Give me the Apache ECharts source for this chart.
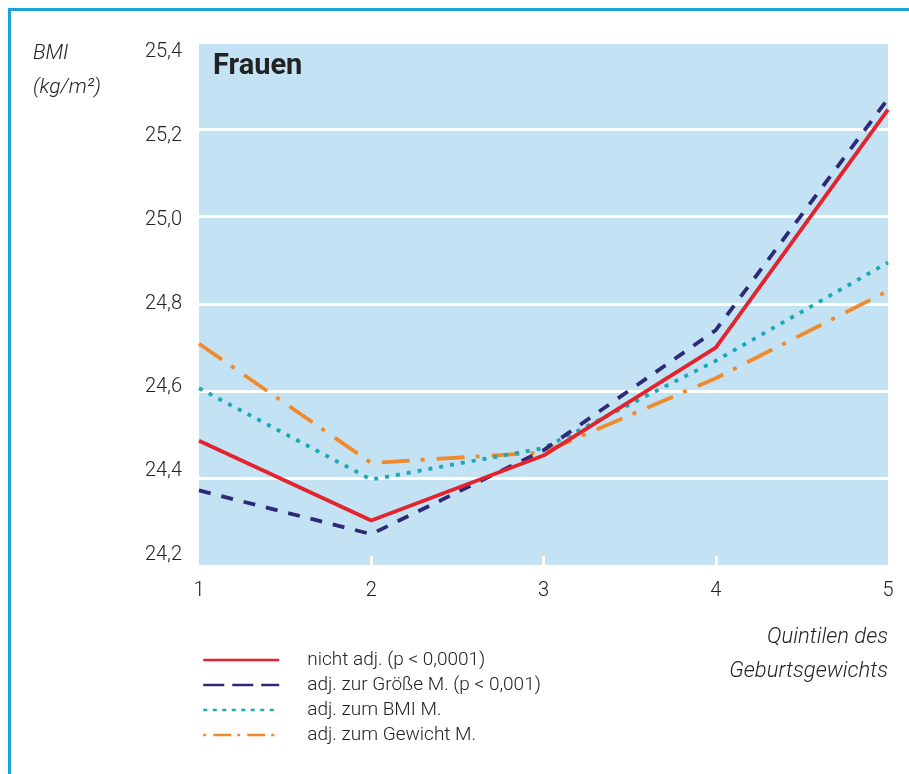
<!DOCTYPE html>
<html><head><meta charset="utf-8">
<script src="https://cdn.jsdelivr.net/npm/echarts@6/dist/echarts.min.js"></script>
<style>html,body{margin:0;padding:0;background:#fff}#c{width:909px;height:774px}</style>
</head><body><div id="c"></div>
<script>
const categories = ['1', '2', '3', '4', '5'];
const seriesNames = ['nicht adj. (p < 0,0001)', 'adj. zur Größe M. (p < 0,001)', 'adj. zum BMI M.', 'adj. zum Gewicht M.'];
const nichtAdj = [24.487, 24.304, 24.453, 24.70, 25.245];
const adjGroesse = [24.373, 24.273, 24.465, 24.74, 25.27];
const adjBMI = [24.607, 24.398, 24.47, 24.67, 24.895];
const adjGewicht = [24.709, 24.436, 24.46, 24.63, 24.83];
const yMin = 24.2, yMax = 25.4, yStep = 0.2;

const font = 'Roboto';
const txt = '#222';
const colors = ['#e3232d', '#2e2a78', '#19a9b8', '#ef8b2c'];
const dashes = ['solid', [12, 11], [4, 7], [28, 11, 4, 12]];
const legendDashes = ['solid', [21, 8], [4, 5.5], [3, 7, 18, 6]];
const widths = [3.8, 3.8, 3.8, 3.8];
const datasets = [nichtAdj, adjGroesse, adjBMI, adjGewicht];

const chart = echarts.init(document.getElementById('c'), null, {renderer: 'canvas'});
chart.setOption({
  animation: false,
  textStyle: {fontFamily: font},
  grid: [
    {left: 199, right: 21, top: 42, bottom: 208, show: true, backgroundColor: '#c3e3f5', borderWidth: 0},
    {left: 199, right: 21, top: 52, bottom: 219, show: false}
  ],
  xAxis: [
    {type: 'category', gridIndex: 0, data: categories, boundaryGap: false,
     axisLine: {show: false},
     axisTick: {show: true, inside: true, length: 10, lineStyle: {color: '#fff', width: 3},
                interval: function (i) { return i > 0 && i < categories.length - 1; }},
     axisLabel: {color: txt, fontSize: 20, fontFamily: font, fontWeight: 300, margin: 15}},
    {type: 'category', gridIndex: 1, data: categories, show: false, boundaryGap: false}
  ],
  yAxis: [
    {type: 'value', gridIndex: 0, min: yMin, max: yMax, interval: yStep,
     axisLine: {show: false}, axisTick: {show: false}, axisLabel: {show: false},
     splitLine: {show: true, lineStyle: {color: '#ffffff', width: 3}}},
    {type: 'value', gridIndex: 1, min: yMin, max: yMax, interval: yStep,
     axisLine: {show: false}, axisTick: {show: false}, splitLine: {show: false},
     axisLabel: {color: txt, fontSize: 20, fontFamily: font, fontWeight: 300, margin: 17,
                 formatter: function (v) { return v.toFixed(1).replace('.', ','); }}}
  ],
  legend: {
    orient: 'vertical', left: 202, top: 650, itemGap: 5, padding: 0,
    itemWidth: 76, itemHeight: 14,
    data: seriesNames.map(function (n, i) {
      return {name: n, lineStyle: {type: legendDashes[i], width: 2.5, color: colors[i]}};
    }),
    itemStyle: {color: 'rgba(0,0,0,0)', borderWidth: 0, opacity: 0},
    textStyle: {color: txt, fontSize: 19, fontFamily: font, fontWeight: 300, lineHeight: 20, padding: [0, 0, 0, 23]}
  },
  graphic: [
    {type: 'rect', shape: {x: 9.5, y: 9.5, width: 1000, height: 1000}, style: {fill: 'none', stroke: '#1ba2da', lineWidth: 3}, z: 100},
    {type: 'text', left: 213, top: 52, style: {text: 'Frauen', font: 'bold 29px Roboto', fill: txt}},
    {type: 'text', left: 33, top: 43, style: {text: 'BMI', font: 'italic 300 21px Roboto', fill: txt}},
    {type: 'text', left: 33, top: 77, style: {text: '(kg/m²)', font: 'italic 300 21px Roboto', fill: txt}},
    {type: 'text', right: 21, top: 626, style: {text: 'Quintilen des', font: 'italic 300 22px Roboto', fill: txt, align: 'right'}},
    {type: 'text', right: 21, top: 660, style: {text: 'Geburtsgewichts', font: 'italic 300 22px Roboto', fill: txt, align: 'right'}}
  ],
  series: seriesNames.map(function (name, i) {
    return {
      name: name, type: 'line', xAxisIndex: 0, yAxisIndex: 0,
      data: datasets[i], symbol: 'none', showSymbol: false,
      lineStyle: {color: colors[i], width: widths[i], type: dashes[i]},
      itemStyle: {color: colors[i]},
      z: 10 - i
    };
  })
});
</script></body></html>
